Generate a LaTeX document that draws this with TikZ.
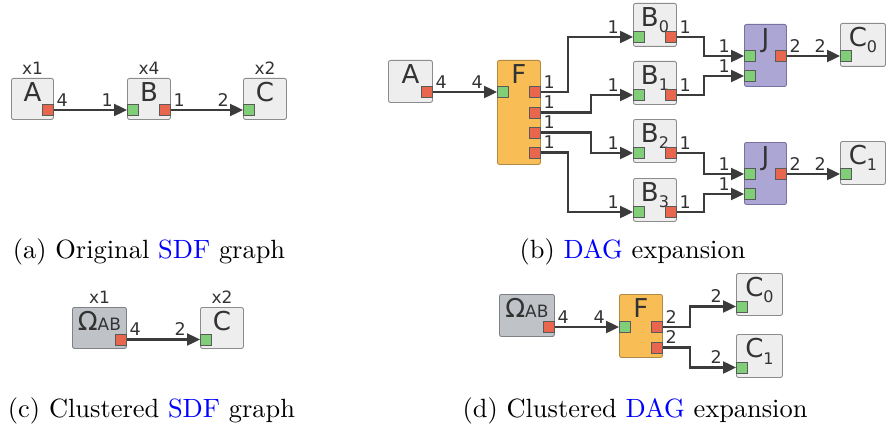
\documentclass[tikz,border=0pt]{standalone}
\usepackage{fontspec}
\usetikzlibrary{arrows.meta}
\newfontfamily\dejavu{DejaVu Sans}
\newfontfamily\capfont{lmroman10-regular.otf}

\definecolor{actorfill}{HTML}{EEEEEE}
\definecolor{actorline}{HTML}{8C8C8C}
\definecolor{forkfill}{HTML}{F9BD55}
\definecolor{forkline}{HTML}{B08A45}
\definecolor{joinfill}{HTML}{ACA6D4}
\definecolor{joinline}{HTML}{77729F}
\definecolor{clusterfill}{HTML}{BFC3C8}
\definecolor{clusterline}{HTML}{7E8287}
\definecolor{ingreen}{HTML}{80CF78}
\definecolor{outred}{HTML}{E8654E}
\definecolor{portline}{HTML}{5A5A5A}
\definecolor{linkcol}{HTML}{3B3B3B}
\definecolor{labeltext}{HTML}{333333}

\newcommand{\subidx}[1]{\raisebox{-6.5pt}{\fontsize{16}{16}\selectfont #1}}

\tikzset{
  actor/.style={draw=actorline, fill=actorfill, line width=0.9pt, rounded corners=2pt,
    anchor=north west, inner sep=0pt, minimum width=43pt, minimum height=42pt},
  forkbox/.style={actor, draw=forkline, fill=forkfill},
  joinbox/.style={actor, draw=joinline, fill=joinfill, minimum width=42pt},
  clusterbox/.style={actor, draw=clusterline, fill=clusterfill},
  port/.style={draw=portline, line width=0.6pt, minimum size=11pt, inner sep=0pt},
  inport/.style={port, fill=ingreen, anchor=west},
  outport/.style={port, fill=outred, anchor=east},
  actorname/.style={anchor=north, inner sep=4pt, text=labeltext,
    font=\dejavu\fontsize{26}{26}\selectfont},
  reps/.style={anchor=south, inner sep=3pt, text=labeltext,
    font=\dejavu\fontsize{17}{17}\selectfont},
  link/.style={draw=linkcol, line width=2.4pt, -{Triangle[length=13pt,width=12pt]}},
  rate/.style={text=labeltext, font=\dejavu\fontsize{17.5}{17.5}\selectfont, inner ysep=2.5pt},
  prod/.style={rate, pos=0, above right, inner xsep=1.5pt},
  cons/.style={rate, pos=1, above left, inner xsep=2pt, xshift=-11pt},
  caption/.style={anchor=base, font=\capfont\fontsize{26.4}{30}\selectfont},
}

\begin{document}
\begin{tikzpicture}[x=1pt,y=-1pt]
  \useasboundingbox (0,0) rectangle (886,428);

  % (a) original SDF graph
  \node[actor, minimum width=42pt, minimum height=41pt] (aA) at (11,78) {};
  \node[actor, minimum height=41pt] (aB) at (127,78) {};
  \node[actor, minimum height=41pt] (aC) at (243,78) {};
  \node[actorname] (aAt) at (aA.north) {A};
  \node[actorname] (aBt) at (aB.north) {B};
  \node[actorname] (aCt) at (aC.north) {C};
  \node[reps] (aAr) at (aA.north) {x1};
  \node[reps] (aBr) at (aB.north) {x4};
  \node[reps] (aCr) at (aC.north) {x2};
  \node[outport] (aAo) at ([yshift=-32]aA.north east) {};
  \node[inport] (aBi) at ([yshift=-32]aB.north west) {};
  \node[outport] (aBo) at ([yshift=-32]aB.north east) {};
  \node[inport] (aCi) at ([yshift=-32]aC.north west) {};
  \draw[link] (aAo) -- node[prod] (aAp) {4} node[cons] (aBc) {1} (aBi);
  \draw[link] (aBo) -- node[prod] (aBp) {1} node[cons] (aCc) {2} (aCi);

  % (b) DAG expansion
  \node[actor, minimum width=44pt] (bA) at (388,60) {};
  \node[forkbox, minimum height=104pt] (bF) at (497,60) {};
  \node[actorname] (bAt) at (bA.north) {A};
  \node[actorname] (bFt) at (bF.north) {F};
  \node[outport] (bAo) at ([yshift=-32]bA.north east) {};
  \node[inport] (bFi) at ([yshift=-32]bF.north west) {};
  \draw[link] (bAo) -- node[prod] (bAp) {4} node[cons] (bFc) {4} (bFi);
  \foreach \k/\d in {1/-32,2/-52.5,3/-72.5,4/-92.5}
    \node[outport] (bFo\k) at ([yshift=\d]bF.north east) {};
  \foreach \i/\y in {0/3,1/61,2/119,3/178} {
    \node[actor, minimum height=43pt] (bB\i) at (633,\y) {};
    \node[actorname] (bBt\i) at (bB\i.north) {B\subidx{\i}};
    \node[inport] (bBi\i) at ([yshift=-34]bB\i.north west) {};
    \node[outport] (bBo\i) at ([yshift=-34]bB\i.north east) {};
  }
  \foreach \k/\i/\dx in {1/0/27,2/1/50,3/2/50,4/3/27}
    \draw[link] (bFo\k.east) -- node[prod] (bFp\k) {1} ++(\dx,0)
      |- node[cons] (bBc\i) {1} (bBi\i);
  \foreach \j/\y/\c in {0/24/23,1/142/141} {
    \node[joinbox, minimum height=62pt] (bJ\j) at (744,\y) {};
    \node[actorname] (bJt\j) at (bJ\j.north) {J};
    \node[inport] (bJi\j a) at ([yshift=-32]bJ\j.north west) {};
    \node[inport] (bJi\j b) at ([yshift=-52]bJ\j.north west) {};
    \node[outport] (bJo\j) at ([yshift=-32]bJ\j.north east) {};
    \node[actor, minimum width=45pt, minimum height=43pt] (bC\j) at (840,\c) {};
    \node[actorname] (bCt\j) at (bC\j.north) {C\subidx{\j}};
    \node[inport] (bCi\j) at ([yshift=-33]bC\j.north west) {};
    \draw[link] (bJo\j) -- node[prod] (bJp\j) {2} node[cons] (bCc\j) {2} (bCi\j);
  }
  \foreach \i/\j/\p in {0/0/a,1/0/b,2/1/a,3/1/b}
    \draw[link] (bBo\i.east) -- node[prod] (bBp\i) {1} ++(27,0)
      |- node[cons] (bJc\i) {1} (bJi\j\p);

  % (c) clustered SDF graph
  \node[clusterbox, minimum width=54pt, minimum height=41pt] (cW) at (72,307) {};
  \node[actor, minimum height=41pt] (cC) at (200,307) {};
  \node[actorname] (cWt) at (cW.north) {Ω{\fontsize{17}{17}\selectfont AB}};
  \node[actorname] (cCt) at (cC.north) {C};
  \node[reps] (cWr) at (cW.north) {x1};
  \node[reps] (cCr) at (cC.north) {x2};
  \node[outport] (cWo) at ([yshift=-32.5]cW.north east) {};
  \node[inport] (cCi) at ([yshift=-32.5]cC.north west) {};
  \draw[link] (cWo) -- node[prod] (cWp) {4} node[cons] (cCc) {2} (cCi);

  % (d) clustered DAG expansion
  \node[clusterbox, minimum width=55pt] (dW) at (499,294) {};
  \node[forkbox, minimum height=63pt] (dF) at (619,294) {};
  \node[actor, minimum width=46pt] (dC0) at (736,273) {};
  \node[actor, minimum width=46pt, minimum height=43pt] (dC1) at (736,334) {};
  \node[actorname] (dWt) at (dW.north) {Ω{\fontsize{17}{17}\selectfont AB}};
  \node[actorname] (dFt) at (dF.north) {F};
  \node[actorname] (dCt0) at (dC0.north) {C\subidx{0}};
  \node[actorname] (dCt1) at (dC1.north) {C\subidx{1}};
  \node[outport] (dWo) at ([yshift=-33]dW.north east) {};
  \node[inport] (dFi) at ([yshift=-33]dF.north west) {};
  \node[outport] (dFo1) at ([yshift=-33]dF.north east) {};
  \node[outport] (dFo2) at ([yshift=-53.5]dF.north east) {};
  \node[inport] (dCi0) at ([yshift=-33.5]dC0.north west) {};
  \node[inport] (dCi1) at ([yshift=-33.5]dC1.north west) {};
  \draw[link] (dWo) -- node[prod] (dWp) {4} node[cons] (dFc) {4} (dFi);
  \draw[link] (dFo1.east) -- node[prod] (dFp1) {2} ++(27,0) |- node[cons] (dCc0) {2} (dCi0);
  \draw[link] (dFo2.east) -- node[prod] (dFp2) {2} ++(27,0) |- node[cons] (dCc1) {2} (dCi1);

  % captions
  \node[caption] (capa) at (149,258) {(a) Original \textcolor{blue}{SDF} graph};
  \node[caption] (capb) at (632.5,258) {(b) \textcolor{blue}{DAG} expansion};
  \node[caption] (capc) at (151.5,417) {(c) Clustered \textcolor{blue}{SDF} graph};
  \node[caption] (capd) at (635,417) {(d) Clustered \textcolor{blue}{DAG} expansion};
\end{tikzpicture}
\end{document}
